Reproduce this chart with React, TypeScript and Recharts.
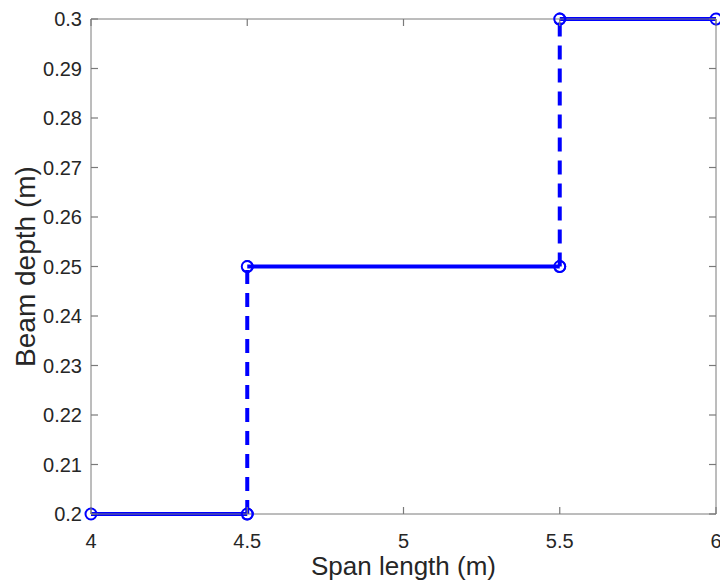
import { LineChart, Line, XAxis, YAxis } from 'recharts';

// each design level: span range and the beam depth chosen for it
const levelStart = [4, 4.5, 5.5];
const levelEnd = [4.5, 5.5, 6];
const levelDepth = [0.2, 0.25, 0.3];

const xTicks = [4, 4.5, 5, 5.5, 6];
const yTicks = [0.2, 0.21, 0.22, 0.23, 0.24, 0.25, 0.26, 0.27, 0.28, 0.29, 0.3];

const BLUE = '#0000ff';
const AXIS = '#7a7a7a';
const TEXT = '#262626';
const FONT = '"Liberation Sans", Arial, sans-serif';

// solid horizontal steps
const steps = levelDepth.map((d, i) => [
  { span: levelStart[i], depth: d },
  { span: levelEnd[i], depth: d },
]);

// dashed risers between consecutive levels
const risers = levelDepth.slice(1).map((d, i) => [
  { span: levelEnd[i], depth: levelDepth[i] },
  { span: levelEnd[i], depth: d },
]);

const dot = { r: 5.5, stroke: BLUE, strokeWidth: 2, fill: 'none' };

// inward tick marks like a boxed MATLAB axes
const BottomTick = (props: any) => {
  const x = Number(props.x);
  const y = Number(props.y);
  return (
    <g>
      <line x1={x} y1={y - 10} x2={x} y2={y - 17} stroke={AXIS} strokeWidth={1.2} />
      <text x={x} y={y + 24} textAnchor="middle" fill={TEXT} fontSize={20} fontFamily={FONT}>
        {props.payload.value}
      </text>
    </g>
  );
};

const LeftTick = (props: any) => {
  const x = Number(props.x);
  const y = Number(props.y);
  return (
    <g>
      <line x1={x + 9} y1={y} x2={x + 16} y2={y} stroke={AXIS} strokeWidth={1.2} />
      <text x={x} y={y + 7} textAnchor="end" fill={TEXT} fontSize={20} fontFamily={FONT}>
        {String(props.payload.value)}
      </text>
    </g>
  );
};

const TopTick = (props: any) => {
  const x = Number(props.x);
  const y = Number(props.y);
  return <line x1={x} y1={y} x2={x} y2={y + 7} stroke={AXIS} strokeWidth={1.2} />;
};

const RightTick = (props: any) => {
  const x = Number(props.x);
  const y = Number(props.y);
  return <line x1={x} y1={y} x2={x - 7} y2={y} stroke={AXIS} strokeWidth={1.2} />;
};

const YLabel = ({ viewBox }: any) => {
  const cx = viewBox.x + 35;
  const cy = viewBox.y + viewBox.height / 2;
  return (
    <text
      x={cx}
      y={cy}
      transform={`rotate(-90 ${cx} ${cy})`}
      textAnchor="middle"
      fill={TEXT}
      fontSize={28}
      fontFamily={FONT}
    >
      Beam depth (m)
    </text>
  );
};

export default function App() {
  return (
    <div style={{ position: 'absolute', left: 0, top: 0, background: '#fff' }}>
      <LineChart width={720} height={581} margin={{ top: 19, right: 4, bottom: 0, left: 0 }}>
        <XAxis
          xAxisId="b"
          dataKey="span"
          type="number"
          domain={[4, 6]}
          ticks={xTicks}
          height={67}
          stroke={AXIS}
          tickLine={false}
          tickSize={0}
          tickMargin={10}
          tick={<BottomTick />}
          label={{ value: 'Span length (m)', position: 'insideBottom', offset: 6, fill: TEXT, fontSize: 26, fontFamily: FONT }}
          allowDuplicatedCategory={false}
        />
        <XAxis
          xAxisId="t"
          orientation="top"
          dataKey="span"
          type="number"
          domain={[4, 6]}
          ticks={xTicks}
          height={1}
          mirror
          stroke={AXIS}
          tickLine={false}
          tickSize={0}
          tickMargin={0}
          tick={<TopTick />}
          allowDuplicatedCategory={false}
        />
        <YAxis
          yAxisId="l"
          dataKey="depth"
          type="number"
          domain={[0.2, 0.3]}
          ticks={yTicks}
          width={91}
          stroke={AXIS}
          tickLine={false}
          tickSize={0}
          tickMargin={9}
          tick={<LeftTick />}
          label={{ content: <YLabel /> }}
        />
        <YAxis
          yAxisId="r"
          orientation="right"
          dataKey="depth"
          type="number"
          domain={[0.2, 0.3]}
          ticks={yTicks}
          width={1}
          mirror
          stroke={AXIS}
          tickLine={false}
          tickSize={0}
          tickMargin={0}
          tick={<RightTick />}
        />
        {risers.map((seg, i) => (
          <Line
            key={`riser-${i}`}
            xAxisId="t"
            yAxisId="r"
            data={seg}
            dataKey="depth"
            stroke={BLUE}
            strokeWidth={4}
            strokeDasharray="14 9"
            dot={dot}
            isAnimationActive={false}
          />
        ))}
        {steps.map((seg, i) => (
          <Line
            key={`step-${i}`}
            xAxisId="b"
            yAxisId="l"
            data={seg}
            dataKey="depth"
            stroke={BLUE}
            strokeWidth={4}
            dot={dot}
            isAnimationActive={false}
          />
        ))}
      </LineChart>
    </div>
  );
}
